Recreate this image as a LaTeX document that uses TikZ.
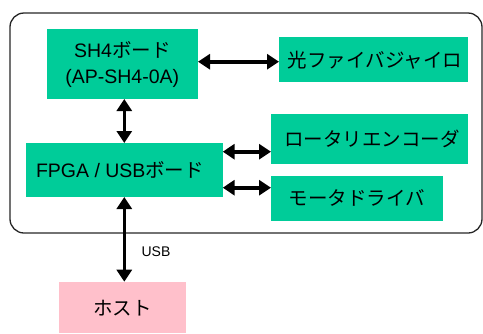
\documentclass[tikz,border=0pt]{standalone}
\usepackage{fontspec}
\setmainfont{Liberation Sans}
\newfontfamily\jp{Noto Sans CJK JP}
\usetikzlibrary{arrows.meta}
\definecolor{boxgreen}{RGB}{0,204,153}
\definecolor{hostpink}{RGB}{255,192,203}
\begin{document}
\begin{tikzpicture}[x=1pt,y=-1pt,
  lbl/.style={draw=none,inner sep=0pt,font=\fontsize{19.5}{26}\selectfont},
  conn/.style={line width=3.6pt,{Triangle[length=12pt,width=15pt]}-{Triangle[length=12pt,width=15pt]}}]
\useasboundingbox (0,0) rectangle (483,333);
\draw[line width=1.3pt,draw=black!85,rounded corners=14pt] (10,13) rectangle (482,233);
\fill[boxgreen] (46.7,29) rectangle (198,99);
\node[lbl,align=center] (sh4) at (122.3,65) {SH4{\jp ボード}\\(AP-SH4-0A)};
\fill[boxgreen] (26,143) rectangle (222.7,197);
\node[lbl] (fpga) at (120,170) {FPGA / USB{\jp ボード}};
\fill[boxgreen] (279,37) rectangle (467.7,82);
\node[lbl] (gyro) at (375,60) {\jp 光ファイバジャイロ};
\fill[boxgreen] (271,114) rectangle (467.7,164);
\node[lbl] (enc) at (372,139) {\jp ロータリエンコーダ};
\fill[boxgreen] (271,175.7) rectangle (442.7,221);
\node[lbl] (mot) at (357,198) {\jp モータドライバ};
\fill[hostpink] (59,281.7) rectangle (185.7,333);
\node[lbl] (host) at (122.5,308) {\jp ホスト};
\coordinate (a1) at (198,61.7);
\coordinate (a2) at (279,61.7);
\draw[conn] (a1) -- (a2);
\coordinate (b1) at (124.3,99);
\coordinate (b2) at (124.3,143);
\draw[conn] (b1) -- (b2);
\coordinate (c1) at (222.7,151.7);
\coordinate (c2) at (271,151.7);
\draw[conn] (c1) -- (c2);
\coordinate (d1) at (222.7,187.7);
\coordinate (d2) at (271,187.7);
\draw[conn] (d1) -- (d2);
\coordinate (e1) at (124.3,197);
\coordinate (e2) at (124.3,281.7);
\draw[conn] (e1) -- (e2);
\node[inner sep=0pt,font=\fontsize{14}{16}\selectfont] (usb) at (156,252) {USB};
\end{tikzpicture}
\end{document}
